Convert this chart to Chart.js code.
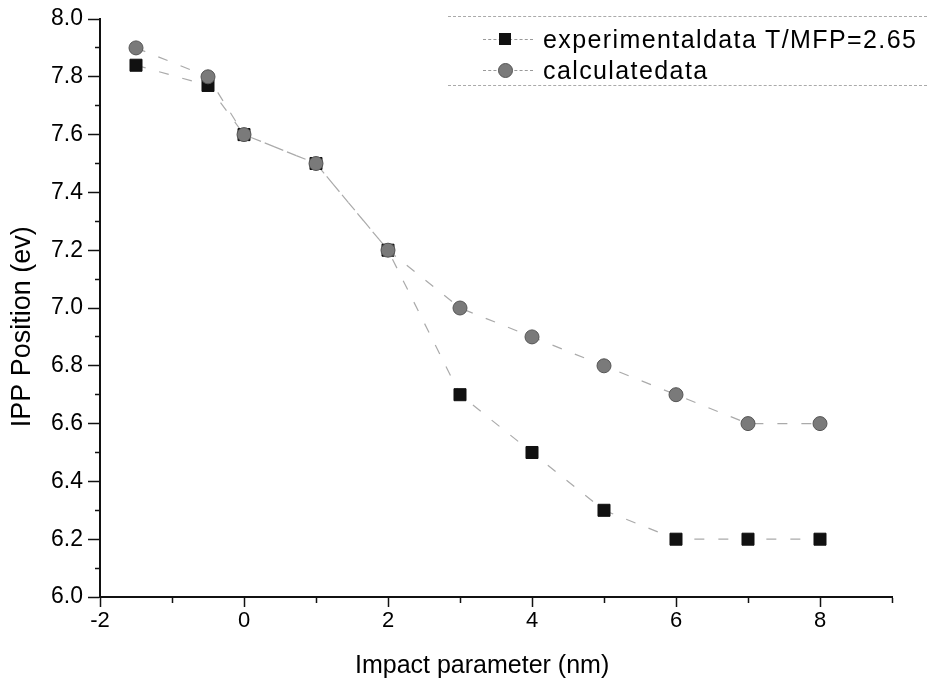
<!DOCTYPE html>
<html>
<head>
<meta charset="utf-8">
<script src="https://cdn.jsdelivr.net/npm/chart.js@4/dist/chart.umd.min.js"></script>
<style>
  body { margin: 0; background: #fff; }
  #wrap { position: relative; width: 927px; height: 682px; }
  #legend {
    position: absolute; left: 448px; top: 16px; width: 479px; height: 68px;
    border-top: 1px dashed #aaa; border-bottom: 1px dashed #aaa;
    font-family: Arial, "Liberation Sans", sans-serif; font-size: 25px; letter-spacing: 1.4px; color: #000;
  }
  .row { position: absolute; left: 0; height: 30px; line-height: 30px; white-space: nowrap; }
  .seg { position: absolute; top: 15px; width: 50px; left: 35px; border-top: 1px dashed #999; }
  .sq { position: absolute; left: 51px; top: 9px; width: 12px; height: 12px; background: #111; }
  .ci { position: absolute; left: 50px; top: 8px; width: 13px; height: 13px; border-radius: 50%; background: #7a7a7a; border: 1px solid #555; }
  .txt { position: absolute; left: 95px; top: 0; }
</style>
</head>
<body>
<div id="wrap">
  <canvas id="myChart"></canvas>
  <div id="legend">
    <div class="row" style="top:7px"><div class="seg"></div><div class="sq"></div><span class="txt">experimentaldata T/MFP=2.65</span></div>
    <div class="row" style="top:38px"><div class="seg"></div><div class="ci"></div><span class="txt">calculatedata</span></div>
  </div>
</div>
<script>
const impact = [-1.5, -0.5, 0, 1, 2, 3, 4, 5, 6, 7, 8];
const experimental = [7.84, 7.77, 7.6, 7.5, 7.2, 6.7, 6.5, 6.3, 6.2, 6.2, 6.2];
const calculated = [7.9, 7.8, 7.6, 7.5, 7.2, 7.0, 6.9, 6.8, 6.7, 6.6, 6.6];

function toPoints(ys) {
  return impact.map((x, i) => ({ x: x, y: ys[i] }));
}

document.addEventListener("DOMContentLoaded", (event) => {
  var ctx = document.getElementById("myChart").getContext("2d");
  var font = "Arial, 'Liberation Sans', sans-serif";

  new Chart(ctx, {
    type: "line",
    data: {
      datasets: [
        {
          label: "experimentaldata T/MFP=2.65",
          data: toPoints(experimental),
          order: 1,
          borderColor: "#aaa",
          borderWidth: 1.2,
          borderDash: [10, 14],
          pointStyle: "rect",
          pointRadius: 8.5,
          pointBackgroundColor: "#111",
          pointBorderColor: "#111",
          pointBorderWidth: 1,
        },
        {
          label: "calculatedata",
          data: toPoints(calculated),
          order: 0,
          borderColor: "#aaa",
          borderWidth: 1.2,
          borderDash: [10, 14],
          pointStyle: "circle",
          pointRadius: 7,
          pointBackgroundColor: "#7a7a7a",
          pointBorderColor: "#555",
          pointBorderWidth: 1,
        },
      ],
    },
    options: {
      responsive: true,
      maintainAspectRatio: false,
      animation: false,
      layout: { padding: { top: 19, right: 35, left: 0, bottom: 0 } },
      plugins: { legend: { display: false }, tooltip: { enabled: false } },
      scales: {
        x: {
          type: "linear",
          min: -2,
          max: 9,
          afterFit: (s) => { s.height = 85; },
          border: { color: "#111", width: 2 },
          grid: {
            drawOnChartArea: false,
            tickLength: 10,
            tickColor: "#111",
            tickWidth: 1.5,
            tickBorderDash: (c) => (c.tick && Math.round(c.tick.value) % 2 !== 0 ? [5, 100] : []),
          },
          ticks: {
            stepSize: 1,
            autoSkip: false,
            maxRotation: 0,
            padding: 1,
            color: "#000",
            font: { family: font, size: 22 },
            callback: (v) => (Math.round(v) % 2 === 0 && v < 9 ? String(v) : ""),
          },
          title: {
            display: true,
            text: "Impact parameter (nm)    ",
            color: "#000",
            font: { family: font, size: 25 },
            padding: { top: 0, bottom: 1 },
          },
        },
        y: {
          min: 6,
          max: 8,
          afterFit: (s) => { s.width = 100; },
          border: { color: "#111", width: 2 },
          grid: {
            drawOnChartArea: false,
            tickLength: 12,
            tickColor: "#111",
            tickWidth: 1.5,
            tickBorderDash: (c) => (c.tick && Math.round(c.tick.value * 10) % 2 !== 0 ? [0, 7, 5, 100] : []),
          },
          ticks: {
            stepSize: 0.1,
            autoSkip: false,
            padding: 5,
            color: "#000",
            font: { family: font, size: 23 },
            callback: (v) => (Math.round(v * 10) % 2 === 0 ? v.toFixed(1) : ""),
          },
          title: {
            display: true,
            text: "IPP Position (ev)     ",
            color: "#000",
            font: { family: font, size: 27 },
            padding: { top: 6, bottom: 0 },
          },
        },
      },
    },
  });
});
</script>
</body>
</html>
